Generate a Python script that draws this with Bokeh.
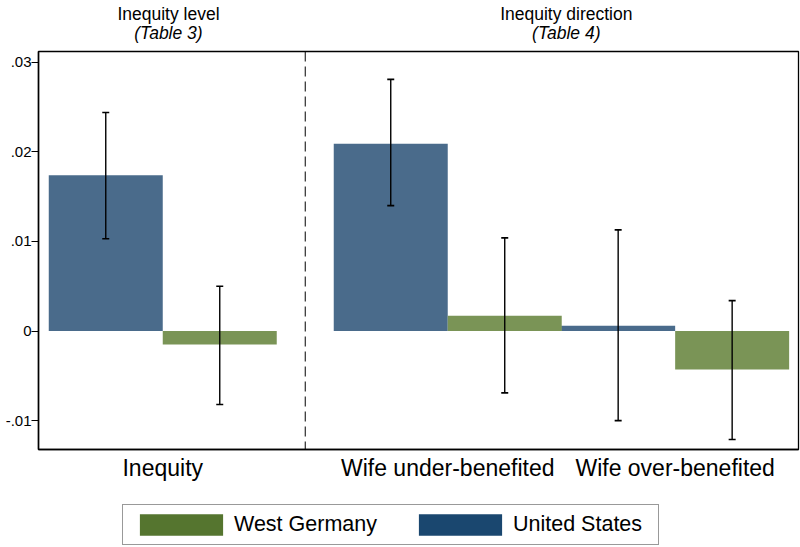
from bokeh.plotting import figure
from bokeh.layouts import column
from bokeh.models import (Range1d, FixedTicker, Span, ColumnDataSource, Legend, LegendItem,
                          LinearAxis)
from bokeh.embed import file_html
from bokeh.resources import INLINE

# ---- data ----
categories = ["Inequity", "Wife under-benefited", "Wife over-benefited"]
us_est = [0.0174, 0.0209, 0.0006]
us_lo = [0.0103, 0.0140, -0.0100]
us_hi = [0.0244, 0.0281, 0.0113]
wg_est = [-0.0015, 0.0017, -0.0043]
wg_lo = [-0.0082, -0.0069, -0.0121]
wg_hi = [0.0050, 0.0104, 0.0034]
series_names = ["West Germany", "United States"]
panel_titles = ["Inequity level", "Inequity direction"]
panel_subtitles = ["(Table 3)", "(Table 4)"]
y_ticks = [-0.01, 0, 0.01, 0.02, 0.03]
y_tick_labels = ["-.01", "0", ".01", ".02", ".03"]

# ---- layout constants ----
FONT = "Liberation Sans"
group_x = [1.09, 3.59, 5.585]
divider_x = 2.34
title_x = [1.14, 4.63]
us_x = [g - 0.5 for g in group_x]
wg_x = [g + 0.5 for g in group_x]

US_BAR = "#4a6b8b"
WG_BAR = "#7a9456"
US_KEY = "#1a476f"
WG_KEY = "#55752f"

p = figure(width=800, height=483, output_backend="svg", toolbar_location=None,
           x_range=Range1d(0, 6.667), y_range=Range1d(-0.01322, 0.03121),
           min_border_left=38, min_border_right=2, min_border_top=0, min_border_bottom=0)
p.background_fill_color = "white"
p.border_fill_color = "white"
p.xgrid.visible = False
p.ygrid.visible = False
p.outline_line_color = "black"
p.outline_line_width = 1.3

us_src = ColumnDataSource(dict(x=us_x, top=us_est))
wg_src = ColumnDataSource(dict(x=wg_x, top=wg_est))
p.vbar(x="x", top="top", bottom=0, width=1.0, source=us_src, fill_color=US_BAR, line_color=None)
p.vbar(x="x", top="top", bottom=0, width=1.0, source=wg_src, fill_color=WG_BAR, line_color=None)

# confidence intervals
err_src = ColumnDataSource(dict(x=us_x + wg_x, lo=us_lo + wg_lo, hi=us_hi + wg_hi))
p.segment(x0="x", y0="lo", x1="x", y1="hi", source=err_src, line_color="black", line_width=1.4)
p.scatter(x="x", y="lo", source=err_src, marker="dash", size=7, line_color="black", line_width=1.6)
p.scatter(x="x", y="hi", source=err_src, marker="dash", size=7, line_color="black", line_width=1.6)

p.add_layout(Span(location=divider_x, dimension="height", line_color="black",
                  line_width=1, line_dash="10 5"))

# axes
xa = p.xaxis[0]
xa.ticker = FixedTicker(ticks=group_x)
xa.major_label_overrides = {g: c for g, c in zip(group_x, categories)}
xa.major_tick_line_color = None
xa.minor_tick_line_color = None
xa.major_tick_out = 0
xa.major_tick_in = 0
xa.major_label_standoff = 5
xa.major_label_text_font = FONT
xa.major_label_text_font_size = "23px"
xa.major_label_text_color = "black"
xa.axis_line_color = "black"
xa.axis_line_width = 1.5

ya = p.yaxis[0]
ya.ticker = FixedTicker(ticks=y_ticks)
ya.major_label_overrides = {t: l for t, l in zip(y_ticks, y_tick_labels)}
ya.minor_tick_line_color = None
ya.major_tick_out = 7
ya.major_tick_in = 0
ya.major_tick_line_color = "black"
ya.major_tick_line_width = 1.2
ya.major_label_standoff = 0
ya.major_label_text_font = FONT
ya.major_label_text_font_size = "15px"
ya.major_label_text_color = "black"
ya.axis_line_color = "black"
ya.axis_line_width = 1.5

# panel titles as label-only axes above the frame
def title_axis(labels, italic, standoff):
    ax = LinearAxis(ticker=FixedTicker(ticks=title_x),
                    major_label_overrides={t: l for t, l in zip(title_x, labels)})
    ax.axis_line_color = None
    ax.major_tick_line_color = None
    ax.minor_tick_line_color = None
    ax.major_tick_out = 0
    ax.major_tick_in = 0
    ax.major_label_standoff = standoff
    ax.major_label_text_font = FONT
    ax.major_label_text_font_size = "17.5px"
    ax.major_label_text_color = "black"
    if italic:
        ax.major_label_text_font_style = "italic"
    return ax

p.add_layout(title_axis(panel_subtitles, True, 9), "above")
p.add_layout(title_axis(panel_titles, False, -4), "above")

# legend in its own strip below
q = figure(width=800, height=64, output_backend="svg", toolbar_location=None,
           x_range=Range1d(0, 1), y_range=Range1d(0, 1), x_axis_type=None, y_axis_type=None,
           min_border_left=38, min_border_right=2, min_border_top=0, min_border_bottom=0)
q.outline_line_color = None
q.background_fill_alpha = 0
q.border_fill_alpha = 0
r_wg = q.vbar(x=[0.5], top=[0], bottom=[0], width=0.01, fill_color=WG_KEY, line_color=None)
r_us = q.vbar(x=[0.5], top=[0], bottom=[0], width=0.01, fill_color=US_KEY, line_color=None)
legend = Legend(items=[LegendItem(label=series_names[0], renderers=[r_wg]),
                       LegendItem(label=series_names[1], renderers=[r_us])],
                orientation="horizontal", location=(84, 2),
                glyph_width=104, glyph_height=27, label_standoff=1, spacing=31,
                padding=6, margin=0, label_width=139,
                label_text_font=FONT, label_text_font_size="21.5px", label_text_color="black",
                border_line_color="#333333", border_line_width=1.5,
                background_fill_color="white", background_fill_alpha=1.0)
q.add_layout(legend, "center")

layout = column(p, q, spacing=0)
open("out.html", "w").write(file_html(layout, INLINE))
